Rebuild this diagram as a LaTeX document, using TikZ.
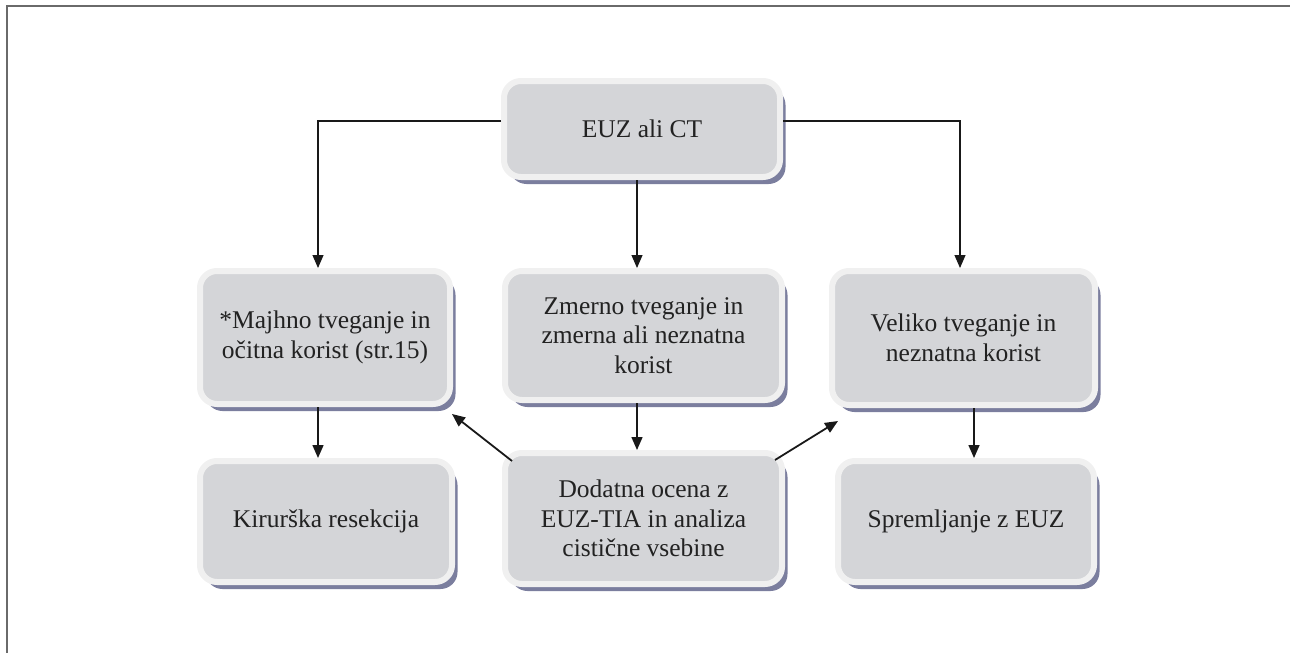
\documentclass[tikz,border=0pt]{standalone}
\usepackage{fontspec}
\setmainfont{Liberation Serif}
\usetikzlibrary{shadows,arrows.meta}
\definecolor{boxfill}{HTML}{D4D5D8}
\definecolor{boxrim}{HTML}{F0F0F0}
\definecolor{boxshadow}{HTML}{7B7E9E}
\definecolor{framecol}{HTML}{6A6A6A}
\definecolor{txt}{HTML}{222222}
\tikzset{
  flowbox/.style={draw=boxrim, line width=6pt, fill=boxfill, rounded corners=17pt,
    align=center, text=txt, inner sep=0pt,
    font=\fontsize{25.5}{29.5}\selectfont,
    drop shadow={shadow xshift=5.5pt, shadow yshift=-7pt, fill=boxshadow, opacity=1}},
  conn/.style={draw=black!90, line width=1.1pt},
  arr/.style={conn, -{Triangle[length=13pt,width=11pt]}},
  darr/.style={draw=black!90, line width=1.8pt, -{Triangle[length=13pt,width=11pt]}}
}
\begin{document}
\begin{tikzpicture}[x=1pt,y=-1pt]
\useasboundingbox (0,0) rectangle (1290,653);
\draw[framecol, line width=2pt] (6.5,660) -- (6.5,5.5) -- (1300,5.5);

\node[flowbox, minimum width=276pt, minimum height=96pt] (top) at (642,129) {EUZ ali CT};

\node[flowbox, minimum width=250pt, minimum height=133pt] (l2) at (325,337.5) {*Majhno tveganje in\\očitna korist (str.15)};
\node[flowbox, minimum width=277pt, minimum height=129pt] (m2) at (643.5,335.5) {Zmerno tveganje in\\zmerna ali neznatna\\korist};
\node[flowbox, minimum width=263pt, minimum height=134pt] (r2) at (963.5,338) {Veliko tveganje in\\neznatna korist};

\node[flowbox, minimum width=252pt, minimum height=121pt] (l3) at (326,521.5) {Kirurška resekcija};
\node[flowbox, minimum width=277pt, minimum height=131pt] (m3) at (643.5,518.5) {Dodatna ocena z\\EUZ-TIA in analiza\\cistične vsebine};
\node[flowbox, minimum width=256pt, minimum height=121pt] (r3) at (966,521.5) {Spremljanje z EUZ};

\coordinate (tl) at (318,121);
\coordinate (tr) at (960,121);
\coordinate (mx) at (637,0);
\coordinate (rx) at (974,0);

\draw[arr] (top.west |- tl) -- (tl) -- (tl |- l2.north);
\draw[arr] (top.east |- tr) -- (tr) -- (tr |- r2.north);
\draw[arr] (mx |- top.south) -- (mx |- m2.north);

\draw[arr, line width=1.5pt] (tl |- l2.south) -- (tl |- l3.north);
\draw[arr, line width=1.5pt] (mx |- m2.south) -- (mx |- m3.north);
\draw[arr, line width=1.5pt] (rx |- r2.south) -- (rx |- r3.north);

\coordinate (dls) at (512,461);
\coordinate (dle) at (452,414);
\coordinate (drs) at (775,460);
\coordinate (dre) at (838,421);
\draw[darr] (dls) -- (dle);
\draw[darr] (drs) -- (dre);
\end{tikzpicture}
\end{document}
